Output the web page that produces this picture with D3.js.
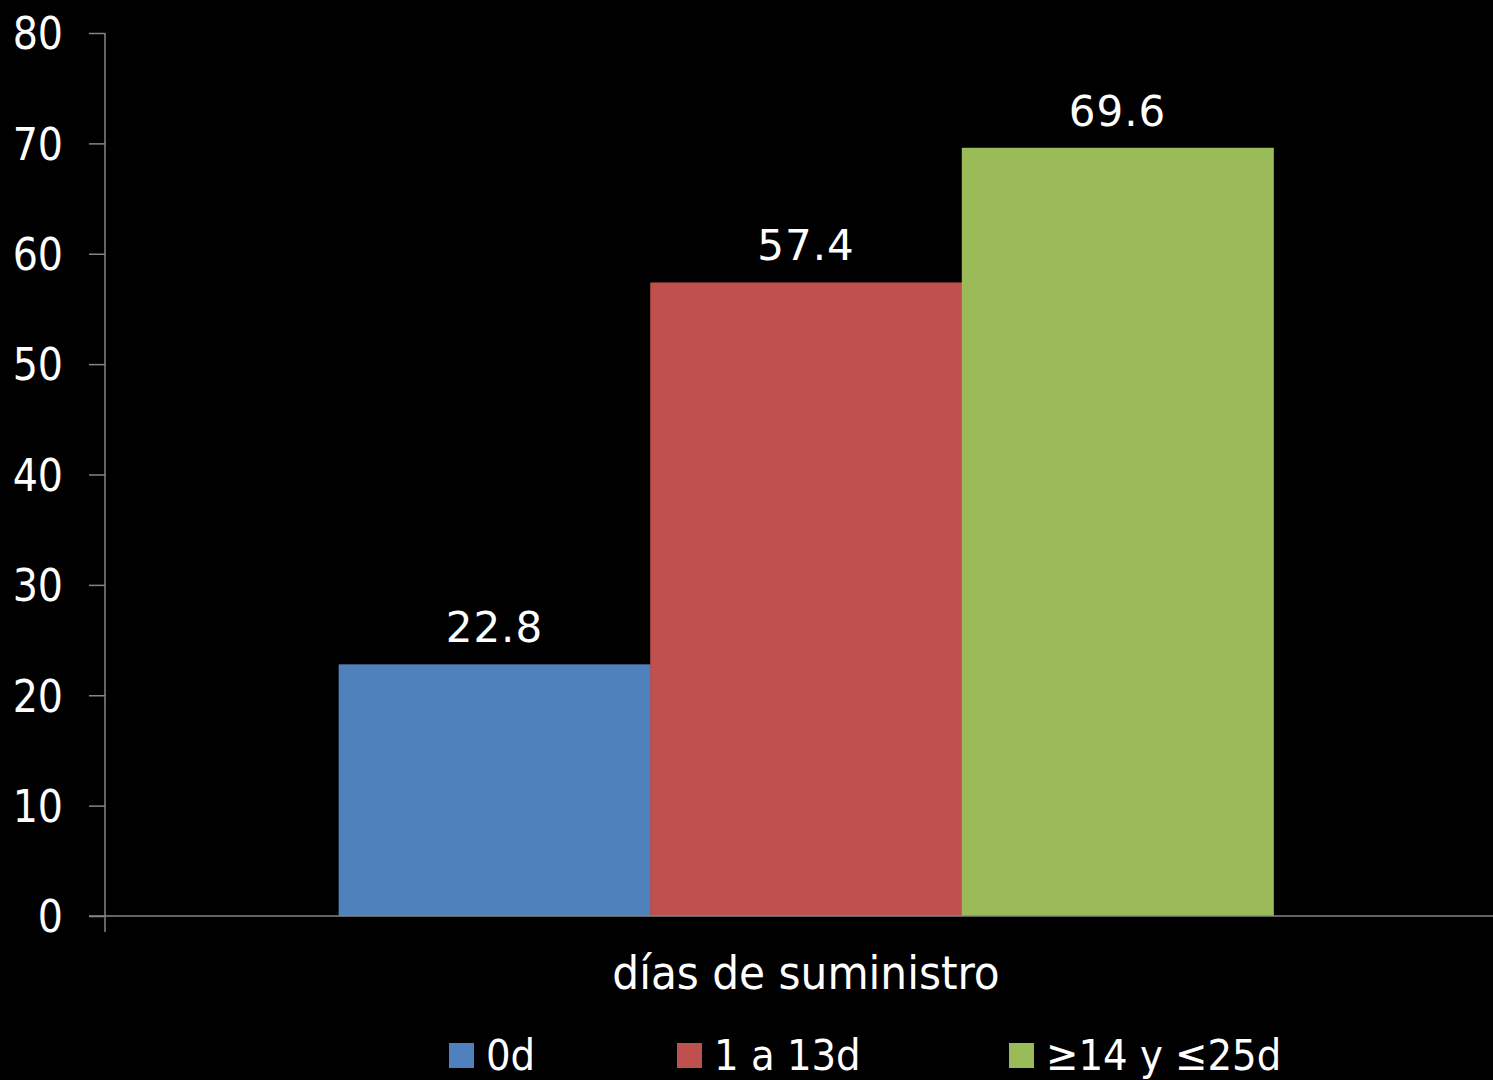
<!DOCTYPE html>
<html lang="es">
  <head>
    <meta charset="utf-8">
    <title>días de suministro</title>
    <style>
      body { margin: 0; background: #000; }
      svg { display: block; }
    </style>
  </head>
  <body>
    <svg id="container" width="1493" height="1080"></svg>
  </body>
  <script src="https://d3js.org/d3.v7.min.js"></script>
  <script>
    let categories = ["días de suministro"]
    let series = ["0d", "1 a 13d", "≥14 y ≤25d"]
    let values = [22.8, 57.4, 69.6]
    let colors = ["#4f81bd", "#c0504d", "#9bbb59"]
    let yTicks = [0, 10, 20, 30, 40, 50, 60, 70, 80]

    let svg = d3.select("#container")
    svg.append("rect").attr("width", 1493).attr("height", 1080).attr("fill", "#000")

    // plot area runs a bit past the right edge of the picture
    let plotLeft = 105, plotRight = 1507, plotTop = 33, plotBottom = 916

    let y = d3.scaleLinear().domain([0, 80]).range([plotBottom, plotTop])
    let x = d3.scaleBand().domain(categories).range([plotLeft, plotRight]).paddingInner(0).paddingOuter(0.25)
    let inner = d3.scaleBand().domain(series).range([0, x.bandwidth()])

    // bars
    let g = svg.append("g")
    g.selectAll("rect")
      .data(series)
      .enter()
      .append("rect")
      .attr("x", (d, i) => x(categories[0]) + inner(d))
      .attr("width", inner.bandwidth() + 0.5)
      .attr("y", (d, i) => y(values[i]))
      .attr("height", (d, i) => plotBottom - y(values[i]))
      .attr("fill", (d, i) => colors[i])

    g.selectAll("text.val")
      .data(series)
      .enter()
      .append("text")
      .attr("class", "val")
      .attr("x", d => x(categories[0]) + inner(d) + inner.bandwidth() / 2)
      .attr("y", (d, i) => y(values[i]) - 22)
      .attr("text-anchor", "middle")
      .attr("fill", "#fff")
      .style("font-family", "DejaVu Sans")
      .style("font-size", "42px")
      .style("letter-spacing", "1px")
      .text((d, i) => values[i].toFixed(1))

    // y axis
    let yAxis = d3.axisLeft(y).tickValues(yTicks).tickSize(16).tickPadding(26).tickFormat(d3.format("d"))
    let ya = svg.append("g").attr("transform", `translate(${plotLeft},0)`).call(yAxis)
    ya.select(".domain").attr("d", `M0,${plotTop}V${plotBottom + 16}`)
    ya.selectAll("line, path").attr("stroke", "#868686").attr("stroke-width", 1.5)
    ya.selectAll("text")
      .attr("fill", "#fff")
      .style("font-family", "'DejaVu Sans Condensed', 'DejaVu Sans'")
      .style("font-size", "44px")
      .attr("dy", "0.36em")

    // x axis
    let xAxis = d3.axisBottom(x).tickSize(0).tickPadding(40)
    let xa = svg.append("g").attr("transform", `translate(0,${plotBottom})`).call(xAxis)
    xa.select(".domain").attr("d", `M${plotLeft - 16},0H${plotRight}`)
    xa.selectAll("path").attr("stroke", "#868686").attr("stroke-width", 1.5)
    xa.selectAll("text")
      .attr("fill", "#fff")
      .style("font-family", "'DejaVu Sans Condensed', 'DejaVu Sans'")
      .style("font-size", "47px")

    // legend
    let legendX = [449, 677, 1009]
    let legend = svg.append("g")
    let item = legend.selectAll("g").data(series).enter().append("g")
      .attr("transform", (d, i) => `translate(${legendX[i]},1043)`)
    item.append("rect").attr("width", 25).attr("height", 25).attr("fill", (d, i) => colors[i])
    item.append("text")
      .attr("x", 37)
      .attr("y", 27)
      .attr("fill", "#fff")
      .style("font-family", "'Liberation Sans Narrow', 'DejaVu Sans Condensed'")
      .style("font-size", "43px")
      .text(d => d)
  </script>
</html>
